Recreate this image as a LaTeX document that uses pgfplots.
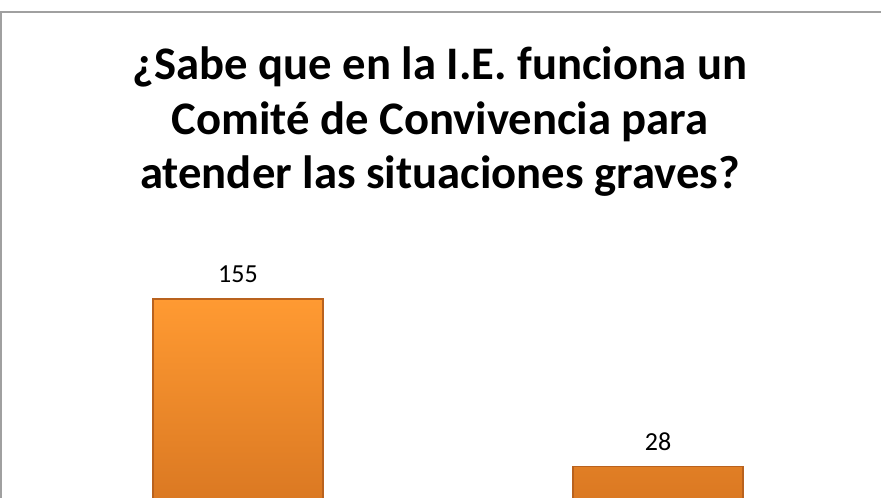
\documentclass[border=0pt]{standalone}
\usepackage{pgfplots}
\pgfplotsset{compat=1.18}
\usepackage{fontspec}
\setmainfont{Carlito}
\definecolor{bartop}{RGB}{255,154,50}
\definecolor{barbot}{RGB}{218,120,34}
\definecolor{baredge}{RGB}{185,98,30}
\definecolor{framegray}{RGB}{160,160,160}
\begin{document}
\begin{tikzpicture}
\path[use as bounding box] (0pt,0pt) rectangle (660.75pt,373.5pt);
\clip (0pt,0pt) rectangle (660.75pt,373.5pt);
\fill[white] (0pt,0pt) rectangle (660.75pt,373.5pt);
\draw[framegray, line width=1.5pt] (0.75pt,-4pt) -- (0.75pt,364.5pt) -- (664pt,364.5pt);
\node[font=\fontsize{35pt}{40pt}\selectfont\bfseries, anchor=base] at (330pt,313.5pt) {¿Sabe que en la I.E. funciona un};
\node[font=\fontsize{35pt}{40pt}\selectfont\bfseries, anchor=base] at (330pt,272.25pt) {Comité de Convivencia para};
\node[font=\fontsize{35pt}{40pt}\selectfont\bfseries, anchor=base] at (330pt,231.75pt) {atender las situaciones graves?};
\begin{axis}[
  at={(21pt,-4.5pt)}, anchor=south west,
  scale only axis, width=630pt, height=198.4pt,
  axis lines=none, xtick=\empty, ytick=\empty,
  xmin=-0.5, xmax=1.5, ymin=0, ymax=200,
  ybar, bar width=127.5pt,
  /pgf/number format/assume math mode=true,
  nodes near coords,
  every node near coord/.append style={font=\fontsize{19.5pt}{23pt}\selectfont, anchor=base, yshift=12.5pt, text=black},
  clip=false,
]
\addplot[draw=baredge, line width=0.8pt, top color=bartop, bottom color=barbot] coordinates {(0,155) (1,28)};
\end{axis}
\end{tikzpicture}
\end{document}
